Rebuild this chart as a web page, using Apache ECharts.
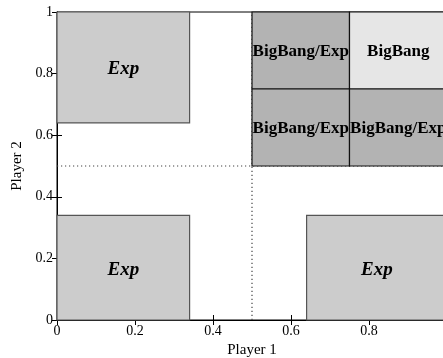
<!DOCTYPE html>
<html><head><meta charset="utf-8">
<script src="https://cdn.jsdelivr.net/npm/echarts@6/dist/echarts.min.js"></script>
<style>html,body{margin:0;padding:0;background:#fff}#c{width:443px;height:358px}</style>
</head><body><div id="c"></div>
<script>
// regions: [x0, x1, y0, y1]
const regionBounds = [
  [0, 0.34, 0.64, 1],
  [0, 0.34, 0, 0.34],
  [0.64, 1, 0, 0.34],
  [0.5, 0.75, 0.75, 1],
  [0.75, 1, 0.75, 1],
  [0.5, 0.75, 0.5, 0.75],
  [0.75, 1, 0.5, 0.75]
];
const regionLabels = ['Exp', 'Exp', 'Exp', 'BigBang/Exp', 'BigBang', 'BigBang/Exp', 'BigBang/Exp'];
const regionKinds = ['exp', 'exp', 'exp', 'mix', 'bb', 'mix', 'mix'];
const xTicks = [0, 0.2, 0.4, 0.6, 0.8, 1];
const yTicks = [0, 0.2, 0.4, 0.6, 0.8, 1];
const dottedV = [[0.5, 0], [0.5, 1]];
const dottedH = [[0, 0.5], [1, 0.5]];

const styles = {
  exp: {fill: '#cccccc', stroke: '#555555', font: 'italic bold 19px "Liberation Serif"', dy: 2},
  mix: {fill: '#b3b3b3', stroke: '#111111', font: 'bold 17px "Liberation Serif"', dy: 1},
  bb:  {fill: '#e6e6e6', stroke: '#111111', font: 'bold 17px "Liberation Serif"', dy: 1}
};
const data = regionBounds.map((b, i) => ({value: b.concat([i])}));

const chart = echarts.init(document.getElementById('c'), null, {renderer: 'canvas'});
const serif = '"Liberation Serif", "Times New Roman", serif';
const axisCommon = {
  min: 0, max: 1, interval: 0.2,
  axisLine: {show: true, lineStyle: {color: '#000', width: 1}},
  axisTick: {show: true, inside: true, length: 5, lineStyle: {color: '#000'}},
  splitLine: {show: false},
  axisLabel: {color: '#000', fontFamily: serif, fontSize: 14, margin: 4,
    formatter: v => String(+v.toFixed(1))}
};
chart.setOption({
  animation: false,
  grid: {left: 57, top: 12, width: 390, height: 308, outerBoundsMode: 'none', containLabel: false,
    show: true, borderColor: '#000', borderWidth: 1, backgroundColor: 'transparent'},
  xAxis: [
    Object.assign({}, axisCommon, {type: 'value', position: 'bottom', name: 'Player 1', nameLocation: 'middle', nameGap: 22,
      nameTextStyle: {color: '#000', fontFamily: serif, fontSize: 15}}),
    Object.assign({}, axisCommon, {type: 'value', position: 'top', axisLabel: {show: false}})
  ],
  yAxis: [
    Object.assign({}, axisCommon, {type: 'value', position: 'left', name: 'Player 2', nameLocation: 'middle', nameGap: 31,
      nameTextStyle: {color: '#000', fontFamily: serif, fontSize: 15}}),
    Object.assign({}, axisCommon, {type: 'value', position: 'right', axisLabel: {show: false}})
  ],
  series: [
    {
      type: 'custom', data: data, z: 2,
      renderItem: function (params, api) {
        const i = api.value(4);
        const st = styles[regionKinds[i]];
        const p0 = api.coord([api.value(0), api.value(3)]);
        const p1 = api.coord([api.value(1), api.value(2)]);
        return {
          type: 'group',
          children: [
            {type: 'rect', shape: {x: p0[0], y: p0[1], width: p1[0] - p0[0], height: p1[1] - p0[1]},
              style: {fill: st.fill, stroke: st.stroke, lineWidth: 1.2}},
            {type: 'text', z2: 10, style: {text: regionLabels[i], x: (p0[0] + p1[0]) / 2, y: (p0[1] + p1[1]) / 2 + st.dy,
              align: 'center', verticalAlign: 'middle', font: st.font, fill: '#000'}}
          ]
        };
      }
    },
    {
      type: 'line', data: dottedV, symbol: 'none', silent: true, z: 1,
      lineStyle: {color: '#444', width: 1.2, type: [1.2, 2.8]}
    },
    {
      type: 'line', data: dottedH, symbol: 'none', silent: true, z: 1,
      lineStyle: {color: '#444', width: 1.2, type: [1.2, 2.8]}
    }
  ]
});
</script></body></html>
